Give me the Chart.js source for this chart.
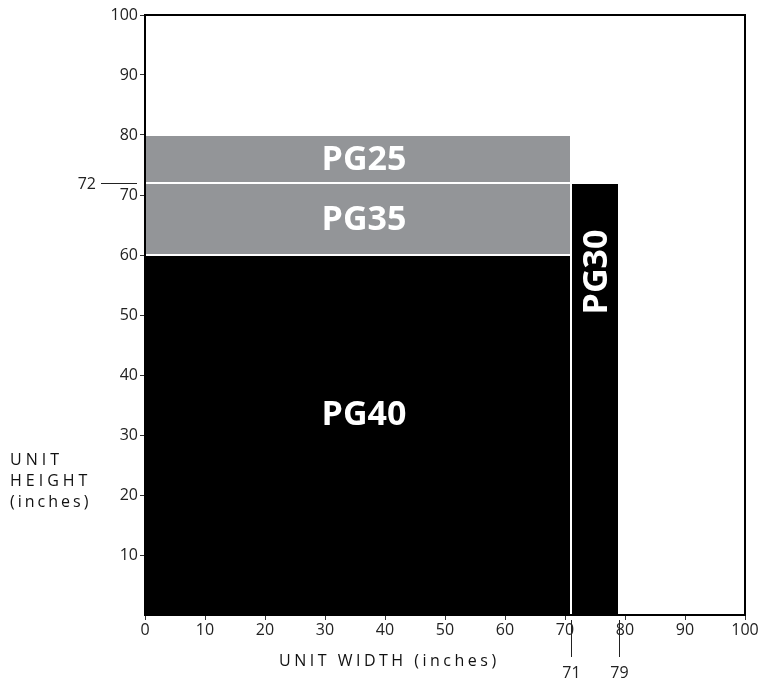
<!DOCTYPE html>
<html>
<head>
<meta charset="utf-8">
<script src="https://cdn.jsdelivr.net/npm/chart.js@4/dist/chart.umd.min.js"></script>
<style>
  body { margin: 0; background: #fff; }
  #wrap { width: 763px; height: 684px; }
</style>
</head>
<body>
<div id="wrap"><canvas id="unitChart" width="763" height="684"></canvas></div>
<script>
// models and their footprint (inches)
const models = ['PG40', 'PG35', 'PG25', 'PG30'];
const widthFrom = [0, 0, 0, 71];
const widthTo = [71, 71, 71, 79];
const heightFrom = [0, 60, 72, 0];
const heightTo = [60, 72, 80, 72];
const fills = ['#000000', '#939598', '#939598', '#000000'];

const xTicks = [0, 10, 20, 30, 40, 50, 60, 70, 80, 90, 100];
const yTicks = [10, 20, 30, 40, 50, 60, 70, 80, 90, 100];
const markX = [71, 79];
const markY = [72];

const FONT = '"Open Sans", "DejaVu Sans", sans-serif';

const blocksPlugin = {
    id: 'blocks',
    beforeDatasetsDraw(chart) {
        const ctx = chart.ctx;
        const xs = chart.scales.x;
        const ys = chart.scales.y;
        ctx.save();
        models.forEach((name, i) => {
            const x0 = xs.getPixelForValue(widthFrom[i]);
            const x1 = xs.getPixelForValue(widthTo[i]);
            const y0 = ys.getPixelForValue(heightTo[i]);
            const y1 = ys.getPixelForValue(heightFrom[i]);
            ctx.fillStyle = fills[i];
            ctx.fillRect(x0, y0, x1 - x0, y1 - y0);
        });
        // white seams between blocks
        ctx.strokeStyle = '#ffffff';
        ctx.lineWidth = 2;
        models.forEach((name, i) => {
            const x0 = xs.getPixelForValue(widthFrom[i]);
            const x1 = xs.getPixelForValue(widthTo[i]);
            const y0 = ys.getPixelForValue(heightTo[i]);
            const y1 = ys.getPixelForValue(heightFrom[i]);
            ctx.strokeRect(x0, y0, x1 - x0, y1 - y0);
        });

        // labels
        ctx.fillStyle = '#ffffff';
        ctx.font = 'bold 34px ' + FONT;
        ctx.textAlign = 'center';
        ctx.textBaseline = 'middle';
        models.forEach((name, i) => {
            const cx = xs.getPixelForValue((widthFrom[i] + widthTo[i]) / 2);
            if (name === 'PG30') {
                const cy = ys.getPixelForValue(heightTo[i] - 15);
                ctx.save();
                ctx.translate(cx + 2, cy);
                ctx.rotate(-Math.PI / 2);
                ctx.fillText(name, 1, 0);
                ctx.restore();
            } else {
                let mid = (heightFrom[i] + heightTo[i]) / 2;
                if (name === 'PG40') mid += 3.5;
                ctx.fillText(name, cx + 6, ys.getPixelForValue(mid) + 1);
            }
        });

        // frame
        const a = chart.chartArea;
        ctx.strokeStyle = '#000';
        ctx.lineWidth = 2;
        ctx.strokeRect(a.left, a.top, a.right - a.left, a.bottom - a.top);
        ctx.restore();
    },
    afterDraw(chart) {
        const ctx = chart.ctx;
        const xs = chart.scales.x;
        const ys = chart.scales.y;
        const a = chart.chartArea;
        ctx.save();
        ctx.strokeStyle = '#222';
        ctx.lineWidth = 1;
        ctx.fillStyle = '#222';
        ctx.font = '16px ' + FONT;

        // 72 marker
        markY.forEach(v => {
            const py = Math.round(ys.getPixelForValue(v)) + 0.5;
            ctx.beginPath();
            ctx.moveTo(a.left - 44, py);
            ctx.lineTo(a.left - 8, py);
            ctx.stroke();
            ctx.textAlign = 'right';
            ctx.textBaseline = 'middle';
            ctx.fillText(String(v), a.left - 49, py + 1);
        });

        // 71 / 79 markers
        markX.forEach(v => {
            const px = Math.round(xs.getPixelForValue(v)) + 0.5;
            ctx.beginPath();
            ctx.moveTo(px, a.bottom + 5);
            ctx.lineTo(px, a.bottom + 42);
            ctx.stroke();
            ctx.textAlign = 'center';
            ctx.textBaseline = 'middle';
            ctx.fillText(String(v), px, a.bottom + 58);
        });

        // axis titles
        ctx.fillStyle = '#111';
        ctx.font = '16px ' + FONT;
        ctx.letterSpacing = '4px';
        ctx.textAlign = 'left';
        ctx.textBaseline = 'middle';
        ctx.fillText('UNIT', 10, 460);
        ctx.fillText('HEIGHT', 10, 481);
        ctx.letterSpacing = '3px';
        ctx.fillText('(inches)', 10, 502);

        ctx.letterSpacing = '3.5px';
        ctx.textAlign = 'left';
        ctx.fillText('UNIT WIDTH (inches)', 279, a.bottom + 46);
        ctx.restore();
    }
};

new Chart(document.getElementById('unitChart'), {
    type: 'scatter',
    data: { datasets: [{ data: [], pointRadius: 0 }] },
    options: {
        responsive: false,
        animation: false,
        layout: { padding: { left: 0, top: 15, right: 18, bottom: 0 } },
        plugins: {
            legend: { display: false },
            tooltip: { enabled: false }
        },
        scales: {
            x: {
                type: 'linear',
                min: 0,
                max: 100,
                afterBuildTicks: s => { s.ticks = xTicks.map(v => ({ value: v })); },
                afterFit: s => { s.height = 69; },
                grid: { drawOnChartArea: false, tickLength: 5, color: '#333' },
                border: { display: false },
                ticks: { color: '#222', font: { family: FONT, size: 16 }, padding: 1, maxRotation: 0 }
            },
            y: {
                type: 'linear',
                min: 0,
                max: 100,
                afterBuildTicks: s => { s.ticks = yTicks.map(v => ({ value: v })); },
                afterFit: s => { s.width = 145; },
                grid: { drawOnChartArea: false, tickLength: 5, color: '#333' },
                border: { display: false },
                ticks: { color: '#222', font: { family: FONT, size: 16 }, padding: 2 }
            }
        }
    },
    plugins: [blocksPlugin]
});
</script>
</body>
</html>
